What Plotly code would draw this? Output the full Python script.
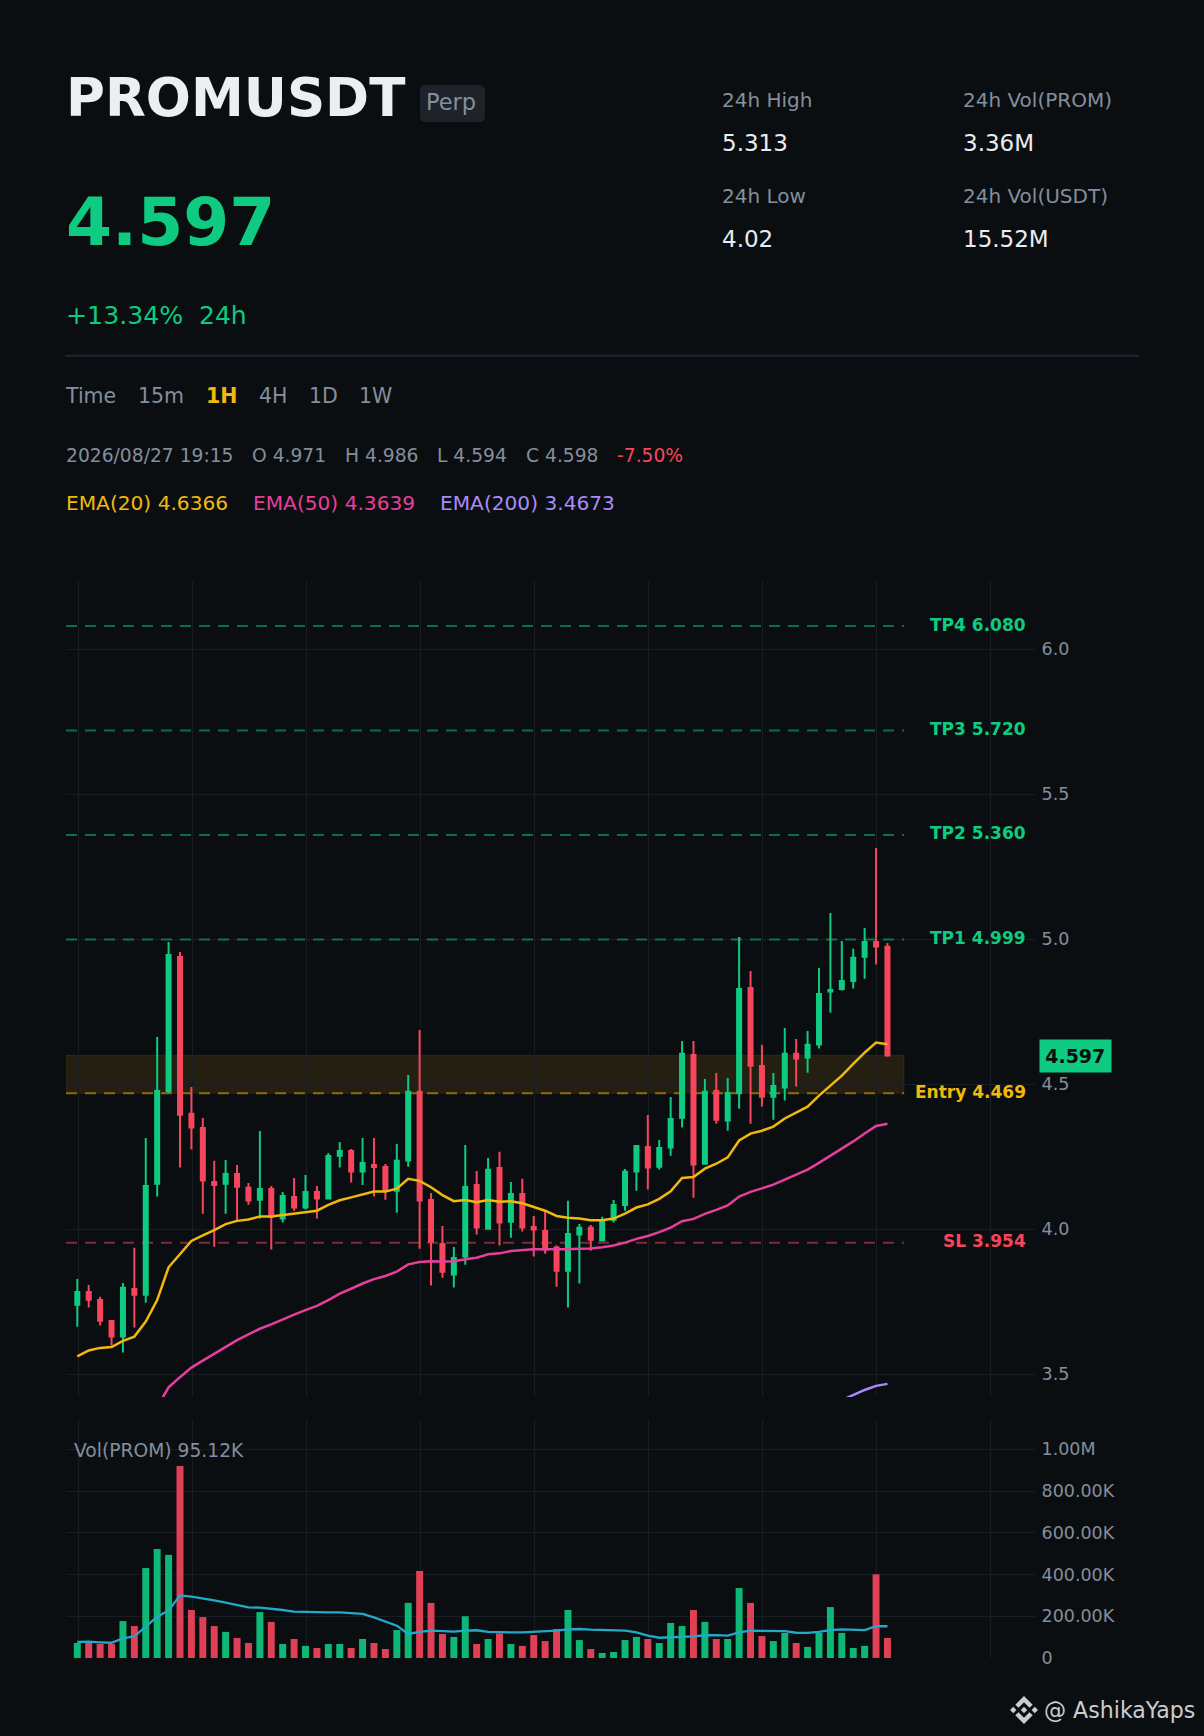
import plotly.graph_objects as go

W, H = 1204, 1736
BG = "#0b0e11"
GRID = "#181c23"
GREEN = "#0ecb81"
RED = "#f6465d"
YELLOW = "#f0b90b"
PINK = "#e83e9c"
PURPLE = "#a78bfa"
CYAN = "#22a9c9"
GRAY = "#848e9c"
WHITE = "#eaecef"

opens = [3.740,3.784,3.756,3.684,3.630,3.794,3.774,4.157,4.477,4.939,4.398,4.349,4.163,4.157,4.191,4.143,4.102,4.139,4.037,4.111,
         4.075,4.129,4.106,4.254,4.270,4.199,4.222,4.215,4.133,4.237,4.474,4.101,3.949,3.844,3.906,4.153,4.002,4.211,4.026,4.122,
         4.008,3.994,3.937,3.857,3.982,4.005,3.961,4.033,4.084,4.199,4.284,4.216,4.282,4.385,4.601,4.226,4.477,4.375,4.470,4.832,
         4.563,4.457,4.489,4.605,4.592,4.637,4.820,4.829,4.856,4.940,4.991,4.974]
highs = [3.829,3.808,3.767,3.685,3.815,3.936,4.315,4.663,4.991,4.956,4.491,4.384,4.236,4.239,4.222,4.160,4.339,4.149,4.129,4.177,
         4.187,4.149,4.263,4.301,4.277,4.315,4.315,4.225,4.294,4.532,4.687,4.125,4.011,3.939,4.291,4.201,4.246,4.267,4.163,4.174,
         4.046,4.063,3.944,4.098,4.018,4.015,4.043,4.101,4.208,4.291,4.394,4.308,4.456,4.649,4.649,4.518,4.539,4.522,5.008,4.891,
         4.636,4.539,4.694,4.656,4.684,4.901,5.091,4.994,4.967,5.039,5.315,4.987]
lows = [3.664,3.730,3.668,3.599,3.575,3.661,3.747,4.113,4.469,4.213,4.275,4.054,3.940,4.054,4.026,4.085,4.037,3.930,4.023,4.064,
        4.068,4.037,4.106,4.213,4.161,4.153,4.113,4.102,4.057,4.216,3.933,3.806,3.833,3.799,3.878,3.982,3.999,3.944,3.971,3.992,
        3.906,3.916,3.802,3.730,3.813,3.926,3.961,4.023,4.064,4.133,4.137,4.206,4.254,4.351,4.109,4.226,4.364,4.340,4.416,4.364,
        4.423,4.378,4.444,4.492,4.540,4.623,4.747,4.823,4.830,4.864,4.913,4.595]
closes = [3.784,3.757,3.685,3.630,3.798,3.774,4.149,4.477,4.946,4.395,4.351,4.168,4.153,4.191,4.147,4.099,4.139,4.044,4.115,4.075,
          4.129,4.106,4.253,4.270,4.199,4.229,4.215,4.133,4.236,4.474,4.099,3.957,3.854,3.901,4.146,4.006,4.205,4.023,4.122,4.006,
          3.999,3.930,3.857,3.984,4.005,3.964,4.032,4.084,4.198,4.287,4.213,4.280,4.380,4.605,4.223,4.474,4.378,4.470,4.829,4.564,
          4.457,4.494,4.605,4.589,4.636,4.811,4.825,4.856,4.936,4.991,4.975,4.599]
ema20 = [3.562,3.582,3.591,3.594,3.615,3.630,3.682,3.756,3.869,3.915,3.960,3.979,3.997,4.018,4.029,4.034,4.044,4.044,4.049,4.053,
         4.060,4.064,4.084,4.100,4.110,4.121,4.130,4.130,4.140,4.174,4.167,4.145,4.118,4.097,4.101,4.093,4.101,4.095,4.097,4.090,
         4.078,4.064,4.046,4.040,4.037,4.031,4.031,4.037,4.054,4.075,4.086,4.105,4.131,4.177,4.180,4.209,4.226,4.248,4.306,4.330,
         4.340,4.354,4.382,4.402,4.423,4.461,4.495,4.530,4.570,4.609,4.644,4.638]
ema50_start = 7
ema50 = [3.387,3.455,3.490,3.523,3.547,3.571,3.597,3.618,3.638,3.657,3.672,3.690,3.706,3.721,3.736,3.756,3.778,3.795,3.813,3.828,
         3.839,3.854,3.879,3.887,3.890,3.889,3.890,3.897,3.902,3.914,3.917,3.925,3.929,3.931,3.931,3.930,3.931,3.933,3.934,3.938,
         3.944,3.954,3.967,3.977,3.990,4.006,4.028,4.036,4.053,4.067,4.082,4.113,4.129,4.141,4.154,4.171,4.189,4.206,4.229,4.253,
         4.277,4.303,4.330,4.356,4.364]
ema200_start = 67
ema200 = [3.411,3.429,3.446,3.460,3.467]
volumes_k = [72,72,67,67,177,153,431,522,494,920,230,196,153,125,96,72,220,173,67,91,
             58,48,67,67,48,91,72,43,134,264,417,264,115,101,200,67,91,118,67,58,
             110,81,139,230,86,43,24,29,86,101,91,72,168,153,230,173,91,91,335,264,
             105,81,120,72,53,120,244,120,48,58,401,96]
vol_ma_k = [77,78,75,73,94,104,150,198,227,300,294,286,276,265,254,243,241,236,230,222,
            220,219,219,219,214,211,195,176,155,115,125,131,128,126,131,133,125,123,123,123,
            125,126,131,137,139,136,134,134,131,123,107,97,99,101,104,109,110,107,123,131,
            131,131,129,121,120,125,134,137,136,134,152,152]
price_ticks = [3.5,4.0,4.5,5.0,5.5,6.0]
vol_ticks_k = [0,200,400,600,800,1000]
vol_tick_text = ["0","200.00K","400.00K","600.00K","800.00K","1.00M"]
levels = [("TP4",6.080,GREEN),("TP3",5.720,GREEN),("TP2",5.360,GREEN),("TP1",4.999,GREEN),("Entry",4.469,YELLOW),("SL",3.954,RED)]
zone_low, zone_high = 4.469, 4.600
last_price = 4.597

n = len(opens)
xs = list(range(n))
X_LEFT, X_RIGHT, X_ZONE_END = -0.99, 83.93, 72.45
grid_x = [0.09 + 9.99*k for k in range(9)]

def px(x): return x / W
def py(y): return 1 - y / H

fig = go.Figure()
fig.add_trace(go.Candlestick(x=xs, open=opens, high=highs, low=lows, close=closes,
    increasing=dict(line=dict(color=GREEN, width=2), fillcolor=GREEN),
    decreasing=dict(line=dict(color=RED, width=2), fillcolor=RED),
    whiskerwidth=0, hoverinfo="skip", xaxis="x", yaxis="y"))
fig.add_trace(go.Scatter(x=xs, y=ema20, mode="lines", line=dict(color=YELLOW, width=2.5), hoverinfo="skip", xaxis="x", yaxis="y"))
fig.add_trace(go.Scatter(x=xs[ema50_start:], y=ema50, mode="lines", line=dict(color=PINK, width=2.5), hoverinfo="skip", xaxis="x", yaxis="y"))
fig.add_trace(go.Scatter(x=xs[ema200_start:], y=ema200, mode="lines", line=dict(color=PURPLE, width=2.5), hoverinfo="skip", xaxis="x", yaxis="y"))
fig.add_trace(go.Bar(x=xs, y=volumes_k, width=0.61, opacity=0.9,
    marker=dict(color=[GREEN if c >= o else RED for o, c in zip(opens, closes)], line=dict(width=0)),
    hoverinfo="skip", xaxis="x2", yaxis="y2"))
fig.add_trace(go.Scatter(x=xs, y=vol_ma_k, mode="lines", line=dict(color=CYAN, width=2.3), hoverinfo="skip", xaxis="x2", yaxis="y2"))

shapes = []
shapes.append(dict(type="rect", xref="x", yref="y", x0=X_LEFT, x1=X_ZONE_END, y0=zone_low, y1=zone_high,
                   fillcolor="rgba(240,170,11,0.115)", line=dict(color="rgba(240,185,11,0.10)", width=1), layer="below"))
for name, val, col in levels:
    shapes.append(dict(type="line", xref="x", yref="y", x0=X_LEFT, x1=X_ZONE_END, y0=val, y1=val,
                       line=dict(color=col, width=2, dash="11px,8px"), opacity=0.5, layer="between"))
shapes.append(dict(type="line", xref="paper", yref="paper", x0=px(65), x1=px(1139), y0=py(355.7), y1=py(355.7),
                   line=dict(color="#1e2534", width=2)))
bx0, bx1, by0, by1 = 420, 485, 85, 122
r = 6
shapes.append(dict(type="path", xref="paper", yref="paper", fillcolor="#1e2329", line=dict(width=0),
    path=(f"M {px(bx0+r)} {py(by0)} L {px(bx1-r)} {py(by0)} Q {px(bx1)} {py(by0)} {px(bx1)} {py(by0+r)} "
          f"L {px(bx1)} {py(by1-r)} Q {px(bx1)} {py(by1)} {px(bx1-r)} {py(by1)} L {px(bx0+r)} {py(by1)} "
          f"Q {px(bx0)} {py(by1)} {px(bx0)} {py(by1-r)} L {px(bx0)} {py(by0+r)} Q {px(bx0)} {py(by0)} {px(bx0+r)} {py(by0)} Z")))
cx, cy, R = 1024, 1710, 14
def poly(pts):
    return "M " + " L ".join(f"{px(cx+a*R)} {py(cy+b*R)}" for a, b in pts) + " Z"
logo_parts = [
    [(0,-1),(.62,-.38),(.39,-.16),(0,-.55),(-.39,-.16),(-.62,-.38)],
    [(0,1),(.62,.38),(.39,.16),(0,.55),(-.39,.16),(-.62,.38)],
    [(-1,0),(-.77,-.23),(-.54,0),(-.77,.23)],
    [(1,0),(.77,-.23),(.54,0),(.77,.23)],
    [(0,-.23),(.23,0),(0,.23),(-.23,0)],
]
for p in logo_parts:
    shapes.append(dict(type="path", xref="paper", yref="paper", path=poly(p), fillcolor="#c9ccd1", line=dict(width=0)))

ann = []
def T(text, x, y, size, color, bold=False, anchor="left"):
    ann.append(dict(text=f"<b>{text}</b>" if bold else text, xref="paper", yref="paper", x=px(x), y=py(y),
                    xanchor=anchor, yanchor="middle", showarrow=False, align=anchor,
                    font=dict(family="DejaVu Sans", size=size, color=color), borderpad=0, borderwidth=0))

T("PROMUSDT", 66, 98.5, 53.1, "#eceef2", True)
T("Perp", 426, 102, 22.5, GRAY)
T("4.597", 66, 222, 66.2, GREEN, True)
T("+13.34%", 66, 316, 25.2, GREEN)
T("24h", 199, 316, 25, GREEN)
T("24h High", 722, 100, 20, GRAY)
T("5.313", 722, 143, 23, WHITE)
T("24h Low", 722, 195.5, 20, GRAY)
T("4.02", 722, 239, 23, WHITE)
T("24h Vol(PROM)", 963, 100, 20, GRAY)
T("3.36M", 963, 143, 23, WHITE)
T("24h Vol(USDT)", 963, 195.5, 20, GRAY)
T("15.52M", 963, 239, 23, WHITE)
T("Time", 65, 396, 20.5, GRAY)
T("15m", 138, 396, 20.5, GRAY)
T("1H", 205.5, 396, 20.5, YELLOW, True)
T("4H", 259, 396, 20.5, GRAY)
T("1D", 309, 396, 20.5, GRAY)
T("1W", 359, 396, 20.5, GRAY)
T("2026/08/27 19:15", 66, 456, 18.7, GRAY)
T("O 4.971", 251.5, 456, 18.7, GRAY)
T("H 4.986", 344.5, 456, 18.7, GRAY)
T("L 4.594", 437, 456, 18.7, GRAY)
T("C 4.598", 526, 456, 18.7, GRAY)
T("-7.50%", 616.5, 456, 18.7, RED)
T("EMA(20) 4.6366", 65.5, 503, 20.15, YELLOW)
T("EMA(50) 4.3639", 252.5, 503, 20.15, PINK)
T("EMA(200) 3.4673", 440, 503, 20.15, PURPLE)
T("Vol(PROM) 95.12K", 74, 1450, 18.7, GRAY)
T("@ AshikaYaps", 1195, 1710, 22.1, "#c9ccd1", anchor="right")
for name, val, col in levels:
    ann.append(dict(text=f"<b>{name} {val:.3f}</b>", xref="paper", yref="y", x=px(1028), y=val, yshift=1.5,
                    xanchor="right", yanchor="middle", showarrow=False,
                    font=dict(family="DejaVu Sans", size=17, color=col)))
ann.append(dict(text=f"<b>{last_price:.3f}</b>", xref="paper", yref="y", x=px(1039), y=last_price,
                xanchor="left", yanchor="middle", showarrow=False, width=70.5, height=32, align="center", valign="middle",
                bgcolor=GREEN, borderpad=0, font=dict(family="DejaVu Sans", size=19, color="#0b0e11")))

common_x = dict(type="linear", domain=[px(66), px(1035)], range=[X_LEFT, X_RIGHT], showgrid=True, gridcolor=GRID,
                gridwidth=1, zeroline=False, showline=False, tickmode="array", tickvals=grid_x, showticklabels=False,
                ticks="", fixedrange=True, automargin=False)
tickfont = dict(family="DejaVu Sans", size=17.5, color=GRAY)
fig.update_layout(
    width=W, height=H, margin=dict(l=0, r=0, t=0, b=0, autoexpand=False), autosize=False,
    paper_bgcolor=BG, plot_bgcolor=BG, showlegend=False, boxgap=0.5, barmode="overlay",
    font=dict(family="DejaVu Sans"),
    xaxis=dict(anchor="y", rangeslider=dict(visible=False), **common_x),
    xaxis2=dict(anchor="y2", **common_x),
    yaxis=dict(domain=[py(1397), py(581)], range=[3.4217, 6.2355], side="right", anchor="x", tickmode="array",
               tickvals=price_ticks, ticktext=[f"{t:.1f}" for t in price_ticks], showgrid=True, gridcolor=GRID, gridwidth=1,
               zeroline=False, showline=False, ticks="outside", ticklen=2, tickcolor=BG, tickfont=tickfont, fixedrange=True, automargin=False),
    yaxis2=dict(domain=[py(1658), py(1419)], range=[0, 1145], side="right", anchor="x2", tickmode="array",
                tickvals=vol_ticks_k, ticktext=vol_tick_text, showgrid=True, gridcolor=GRID, gridwidth=1,
                zeroline=False, showline=False, ticks="outside", ticklen=2, tickcolor=BG, tickfont=tickfont, fixedrange=True, automargin=False),
    shapes=shapes, annotations=ann,
)
fig.write_html("out.html", config=dict(displayModeBar=False, responsive=False),
               post_script="document.body.style.margin='0';document.body.style.background='#0b0e11';document.documentElement.style.overflow='hidden';")
